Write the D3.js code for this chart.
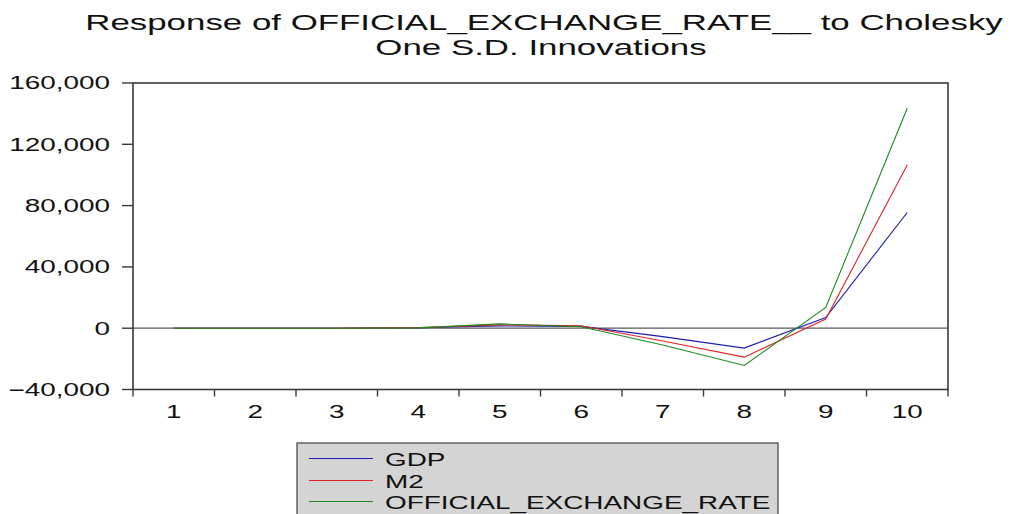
<!DOCTYPE html>
<html>
<head>
<meta charset="utf-8">
<script src="https://cdn.jsdelivr.net/npm/d3@7"></script>
<style>
  html, body { margin: 0; padding: 0; background: #fff; }
  svg { display: block; font-family: "Liberation Sans", Arial, sans-serif; }
</style>
</head>
<body>
<svg id="chart" width="1011" height="514"></svg>
<script>
// Impulse-response horizons and the responses to each shock
const periods = [1, 2, 3, 4, 5, 6, 7, 8, 9, 10];
const gdp = [0, 0, 0, 300, 1500, 1200, -5500, -13000, 7000, 75500];
const m2 = [0, 0, 0, 400, 2200, 1600, -8400, -18900, 6000, 106500];
const oer = [0, 0, 0, 200, 2800, 900, -11000, -24300, 13500, 143500];
const seriesNames = ["GDP", "M2", "OFFICIAL_EXCHANGE_RATE"];
const yTicks = [-40000, 0, 40000, 80000, 120000, 160000];
const titleLines = ["Response of OFFICIAL_EXCHANGE_RATE__ to Cholesky", "One S.D. Innovations"];

const colors = ["#1c1cb4", "#e02424", "#1e8a1e"];
const stretch = 1.55; // wide letterforms used throughout the chart

const svg = d3.select("#chart");
const frame = { left: 133, right: 948, top: 83, bottom: 389.5 };

const x = d3.scaleLinear().domain([0.5, 10.5]).range([frame.left, frame.right]);
const y = d3.scaleLinear().domain([-40000, 160000]).range([frame.bottom, frame.top]);

function wideText(sel, tx, ty, str, size, anchor) {
  return sel.append("text")
    .attr("transform", `translate(${tx},${ty}) scale(${stretch},1)`)
    .attr("text-anchor", anchor)
    .attr("font-size", size)
    .attr("fill", "#111")
    .text(str);
}

// Title
wideText(svg, 544, 30, titleLines[0], 22.5, "middle");
wideText(svg, 541, 55, titleLines[1], 22.5, "middle");

// Zero reference line
svg.append("line")
  .attr("x1", frame.left).attr("x2", frame.right)
  .attr("y1", y(0)).attr("y2", y(0))
  .attr("stroke", "#5a5a5a").attr("stroke-width", 1.2);

// Response lines
const line = d3.line().x((d, i) => x(periods[i])).y(d => y(d));
[gdp, m2, oer].forEach((s, k) => {
  svg.append("path")
    .attr("d", line(s))
    .attr("fill", "none")
    .attr("stroke", colors[k])
    .attr("stroke-width", 1.1);
});

// Plot frame
svg.append("rect")
  .attr("x", frame.left).attr("y", frame.top)
  .attr("width", frame.right - frame.left).attr("height", frame.bottom - frame.top)
  .attr("fill", "none").attr("stroke", "#3a3a3a").attr("stroke-width", 1.6);

// Y axis ticks and labels
const fmt = d3.format(",");
const yg = svg.append("g");
yTicks.forEach(v => {
  yg.append("line")
    .attr("x1", frame.left - 11).attr("x2", frame.left)
    .attr("y1", y(v)).attr("y2", y(v))
    .attr("stroke", "#3a3a3a").attr("stroke-width", 1.4);
  wideText(yg, 110, y(v) + 6.4, fmt(v), 18, "end");
});

// X axis ticks at period boundaries, labels at period centres
const xg = svg.append("g");
d3.range(0.5, 11, 1).forEach(b => {
  xg.append("line")
    .attr("x1", x(b)).attr("x2", x(b))
    .attr("y1", frame.bottom).attr("y2", frame.bottom + 7)
    .attr("stroke", "#3a3a3a").attr("stroke-width", 1.4);
});
periods.forEach(p => wideText(xg, x(p), 418, String(p), 18, "middle"));

// Legend
const lg = svg.append("g");
lg.append("rect")
  .attr("x", 297).attr("y", 443)
  .attr("width", 481).attr("height", 90)
  .attr("fill", "#d4d4d4").attr("stroke", "#5a5a5a").attr("stroke-width", 1.4);
seriesNames.forEach((name, k) => {
  const ly = Math.round(458 + k * 21.5) + 0.5;
  lg.append("line")
    .attr("x1", 309).attr("x2", 373)
    .attr("y1", ly).attr("y2", ly)
    .attr("stroke", colors[k]).attr("stroke-width", 1);
  wideText(lg, 385, ly + 7, name, 18, "start");
});
</script>
</body>
</html>
